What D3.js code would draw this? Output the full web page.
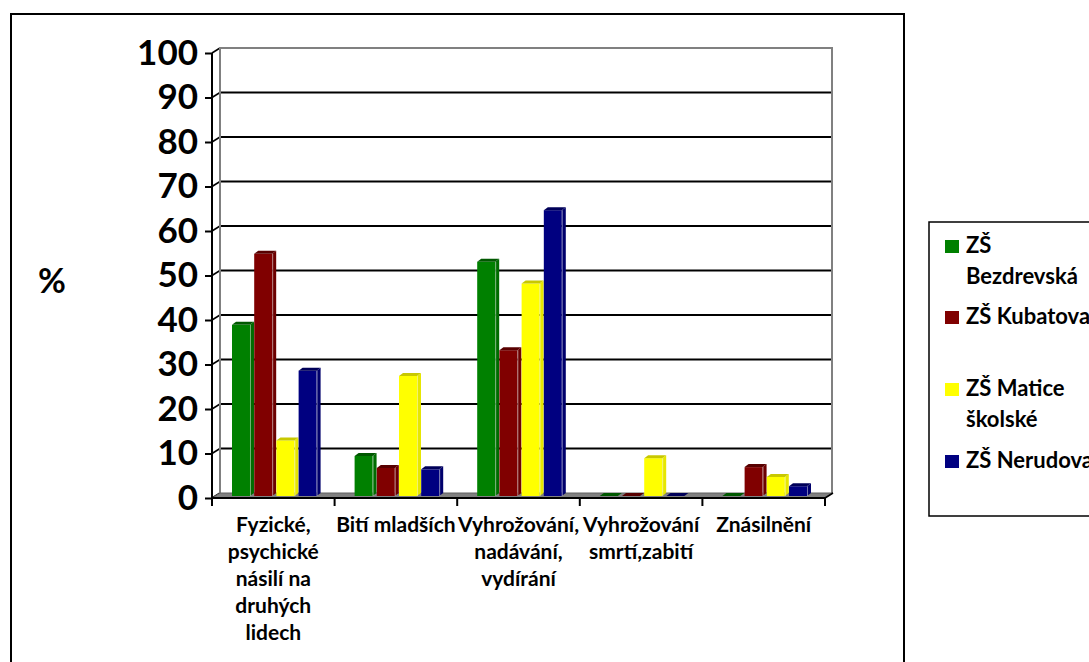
<!DOCTYPE html>
<html>
<head>
<meta charset="utf-8">
<script src="https://cdn.jsdelivr.net/npm/d3@7"></script>
<style>
  body { margin: 0; background: #fff; }
  text { font-family: Lato, "Open Sans", sans-serif; font-weight: bold; fill: #000; }
</style>
</head>
<body>
<svg id="chart" width="1089" height="662"></svg>
<script>
var categories = ["Fyzické, psychické násilí na druhých lidech", "Bití mladších", "Vyhrožování, nadávání, vydírání", "Vyhrožování smrtí,zabití", "Znásilnění"];
var categoryLines = [
  ["Fyzické,", "psychické", "násilí na", "druhých", "lidech"],
  ["Bití mladších"],
  ["Vyhrožování,", "nadávání,", "vydírání"],
  ["Vyhrožování", "smrtí,zabití"],
  ["Znásilnění"]
];
var seriesNames = ["ZŠ Bezdrevská", "ZŠ Kubatova", "ZŠ Matice školské", "ZŠ Nerudova"];
var legendLines = [["ZŠ", "Bezdrevská"], ["ZŠ Kubatova"], ["ZŠ Matice", "školské"], ["ZŠ Nerudova"]];
var bezdrevska = [38.5, 9, 52.7, 0, 0];
var kubatova = [54.5, 6.3, 32.8, 0, 6.5];
var maticeSkolske = [12.5, 27, 47.8, 8.5, 4.3];
var nerudova = [28.2, 6, 64.3, 0, 2.2];
var yTicks = [0, 10, 20, 30, 40, 50, 60, 70, 80, 90, 100];

var seriesValues = [bezdrevska, kubatova, maticeSkolske, nerudova];
var faceColors = ["#008000", "#800000", "#ffff00", "#000080"];
var sideColors = ["#006c00", "#6c0000", "#e6e600", "#00006c"];
var topColors = ["#005800", "#580000", "#c8c800", "#000058"];

var svg = d3.select("#chart"),
  g = svg.append("g");

var depthX = 8, depthY = -5,
  x0 = d3.scaleBand().domain(categories).range([212, 825]),
  x1 = d3.scaleBand().domain(seriesNames).range([20, 104.6]).paddingInner(0.19),
  yFront = d3.scaleLinear().domain([0, 100]).range([498, 53]),
  yBar = d3.scaleLinear().domain([0, 100]).range([496, 51.5]);

// outer frame
svg.append("rect").attr("x", 11).attr("y", 14).attr("width", 893).attr("height", 670)
  .attr("fill", "none").attr("stroke", "#000").attr("stroke-width", 2);

// back wall + side wall gridlines
var grid = g.append("g");
grid.selectAll("line.h")
  .data(yTicks.filter(function(d){ return d > 0 && d < 100; }))
  .enter().append("line").attr("class", "h")
  .attr("x1", 212 + depthX).attr("x2", 832)
  .attr("y1", function(d){ return yFront(d) + depthY; })
  .attr("y2", function(d){ return yFront(d) + depthY; })
  .attr("stroke", "#000").attr("stroke-width", 2);
grid.selectAll("line.d")
  .data(yTicks)
  .enter().append("line").attr("class", "d")
  .attr("x1", 212).attr("x2", 212 + depthX)
  .attr("y1", function(d){ return yFront(d); })
  .attr("y2", function(d){ return yFront(d) + depthY; })
  .attr("stroke", "#000").attr("stroke-width", 1.5);

var wall = d3.path();
wall.moveTo(212 + depthX, yFront(0) + depthY);
wall.lineTo(212 + depthX, yFront(100) + depthY);
wall.lineTo(832, yFront(100) + depthY);
wall.lineTo(832, yFront(0) + depthY);
grid.append("path").attr("d", wall.toString()).attr("fill", "none")
  .attr("stroke", "#808080").attr("stroke-width", 2);

// floor
g.append("polygon")
  .attr("points", [[212, yFront(0)], [825, yFront(0)], [825 + depthX, yFront(0) + depthY], [212 + depthX, yFront(0) + depthY]].join(" "))
  .attr("fill", "#808080").attr("stroke", "#606060").attr("stroke-width", 1);

// bars
var barData = [];
categories.forEach(function(c, ci){
  seriesNames.forEach(function(s, si){
    barData.push({cat: c, series: s, si: si, value: seriesValues[si][ci]});
  });
});
var bdx = 4, bdy = -3;
var bars = g.append("g").selectAll("g")
  .data(barData)
  .enter().append("g")
  .each(function(d){
    var el = d3.select(this),
      xl = x0(d.cat) + x1(d.series),
      xr = xl + x1.bandwidth(),
      yb = yBar(0),
      yt = yBar(d.value);
    if (d.value > 0) {
      el.append("rect").attr("x", xl).attr("y", yt).attr("width", xr - xl).attr("height", yb - yt)
        .attr("fill", faceColors[d.si]);
      el.append("polygon")
        .attr("points", [[xr, yb], [xr + bdx, yb + bdy], [xr + bdx, yt + bdy], [xr, yt]].join(" "))
        .attr("fill", sideColors[d.si]);
      el.append("line").attr("x1", xr + 0.5).attr("x2", xr + 0.5).attr("y1", yt).attr("y2", yb)
        .attr("stroke", "#ffffff").attr("stroke-opacity", 0.45).attr("stroke-width", 1);
    }
    el.append("polygon")
      .attr("points", [[xl, yt], [xl + bdx, yt + bdy], [xr + bdx, yt + bdy], [xr, yt]].join(" "))
      .attr("fill", topColors[d.si]);
  });

// front axes
g.append("line").attr("x1", 212).attr("x2", 212).attr("y1", yFront(0)).attr("y2", yFront(100))
  .attr("stroke", "#000").attr("stroke-width", 2);
g.append("line").attr("x1", 212).attr("x2", 825).attr("y1", yFront(0)).attr("y2", yFront(0))
  .attr("stroke", "#000").attr("stroke-width", 2);
g.append("line").attr("x1", 825).attr("x2", 825 + depthX).attr("y1", yFront(0)).attr("y2", yFront(0) + depthY)
  .attr("stroke", "#000").attr("stroke-width", 1.5);

var yAxis = d3.axisLeft(yFront).tickValues(yTicks).tickSize(7).tickPadding(7);
g.append("g").attr("transform", "translate(212,0)").call(yAxis)
  .call(function(a){ a.select(".domain").remove(); })
  .call(function(a){ a.selectAll(".tick line").attr("stroke", "#000").attr("stroke-width", 2); })
  .call(function(a){ a.selectAll(".tick text").attr("font-size", 35).attr("font-family", "Lato").attr("font-weight", "bold"); });

// category boundary ticks
var bounds = categories.map(function(c){ return x0(c); }).concat([825]);
g.selectAll("line.ct")
  .data(bounds)
  .enter().append("line").attr("class", "ct")
  .attr("x1", function(d){ return d; }).attr("x2", function(d){ return d; })
  .attr("y1", yFront(0)).attr("y2", yFront(0) + 8)
  .attr("stroke", "#000").attr("stroke-width", 2);

var catLabels = g.append("g").selectAll("text")
  .data(categories)
  .enter().append("text")
  .attr("text-anchor", "middle")
  .attr("font-size", 21)
  .attr("x", function(d){ return x0(d) + x0.bandwidth() / 2; })
  .attr("y", 532);
catLabels.selectAll("tspan")
  .data(function(d, i){ return categoryLines[i]; })
  .enter().append("tspan")
  .attr("x", function(){ var p = d3.select(this.parentNode); return p.attr("x"); })
  .attr("dy", function(d, i){ return i === 0 ? 0 : 27; })
  .text(function(d){ return d; });

svg.append("text").attr("x", 52).attr("y", 293).attr("text-anchor", "middle")
  .attr("font-size", 34).text("%");

// legend
var legend = svg.append("g");
legend.append("rect").attr("x", 929).attr("y", 222).attr("width", 180).attr("height", 294)
  .attr("fill", "#fff").attr("stroke", "#000").attr("stroke-width", 1.5);
var legendY = [240, 311, 383, 455];
var items = legend.selectAll("g.item")
  .data(seriesNames)
  .enter().append("g").attr("class", "item")
  .attr("transform", function(d, i){ return "translate(945," + legendY[i] + ")"; });
items.append("rect").attr("width", 14).attr("height", 13)
  .attr("fill", function(d, i){ return faceColors[i]; });
items.append("text").attr("x", 21).attr("y", 13).attr("font-size", 22)
  .selectAll("tspan")
  .data(function(d, i){ return legendLines[i]; })
  .enter().append("tspan")
  .attr("x", 21).attr("dy", function(d, i){ return i === 0 ? 0 : 31; })
  .text(function(d){ return d; });
</script>
</body>
</html>
